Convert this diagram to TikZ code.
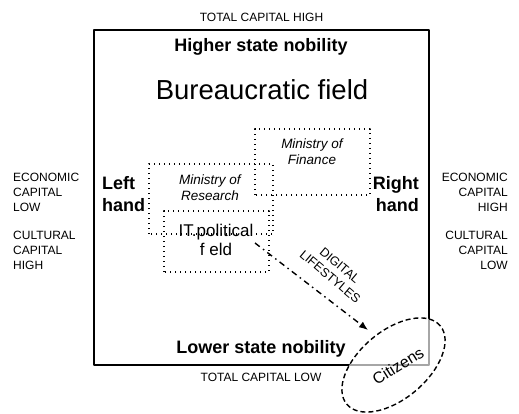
\documentclass[tikz,border=0pt]{standalone}
\usepackage{fontspec}
\setmainfont{Liberation Sans}
\usetikzlibrary{arrows.meta}
\tikzset{
  sidelabel/.style={font=\fontsize{12}{15}\selectfont, align=left, inner sep=0pt},
  nobility/.style={font=\fontsize{18}{20}\selectfont\bfseries, inner sep=0pt},
  handlabel/.style={font=\fontsize{18}{22}\selectfont\bfseries, inner sep=0pt},
  ministry/.style={font=\fontsize{13.5}{16}\selectfont\itshape, align=center, inner sep=0pt},
  dotbox/.style={line width=1.4pt, dash pattern=on 1.4pt off 3.6pt},
}
\begin{document}
\begin{tikzpicture}[x=1pt, y=1pt, line join=round]
  \useasboundingbox (0,0) rectangle (519,413);
  % Rahmen des Feldes
  \draw[line width=1.8pt] (94,48) rectangle (429,383);
  % Achsen oben und unten
  \node[sidelabel] (tophigh) at (261.5,396) {TOTAL CAPITAL HIGH};
  \node[sidelabel] (toplow) at (261,36) {TOTAL CAPITAL LOW};
  \node[nobility] (higher) at (261,366) {Higher state nobility};
  \node[nobility] (lower) at (261,64) {Lower state nobility};
  \node[font=\fontsize{27.5}{30}\selectfont, inner sep=0pt] (bureau) at (262,323) {Bureaucratic field};
  % Achsen links und rechts
  \node[sidelabel, anchor=west] (ecolow) at (13,221) {ECONOMIC\\CAPITAL\\LOW};
  \node[sidelabel, anchor=west] (cultlow) at (13,163) {CULTURAL\\CAPITAL\\HIGH};
  \node[sidelabel, anchor=east, align=right] (ecohigh) at (508,221) {ECONOMIC\\CAPITAL\\HIGH};
  \node[sidelabel, anchor=east, align=right] (culthigh) at (508,163) {CULTURAL\\CAPITAL\\LOW};
  \node[handlabel, anchor=west, align=left] (lefthand) at (102,219) {Left\\hand};
  \node[handlabel, anchor=east, align=right] (righthand) at (419,219) {Right\\hand};
  % Ministerien
  \draw[dotbox] (255,218) rectangle (370,284);
  \node[ministry] (finance) at (312,261.5) {Ministry of\\Finance};
  \draw[dotbox] (149,179) rectangle (273,249);
  \node[ministry] (research) at (210,225) {Ministry of\\Research};
  \draw[dotbox] (164,141) rectangle (269,202);
  \node[font=\fontsize{17}{19}\selectfont, align=center, inner sep=0pt] (itfield) at (216,173.5) {IT.political\\f eld};
  % Buerger
  \draw[line width=1.4pt, dash pattern=on 5pt off 3pt, fill=white, fill opacity=0.65,
    rotate around={40:(393.5,48)}] (393.5,48) ellipse (61 and 34);
  \node[font=\fontsize{16}{19}\selectfont, rotate=32, inner sep=0pt] (citizens) at (398,47) {Citizens};
  % Pfeil
  \coordinate (lsstart) at (255,170);
  \coordinate (lstip) at (368,83);
  \draw[line width=1.4pt, dash pattern=on 6pt off 4pt on 1.5pt off 4pt, -{Latex[length=9pt, width=7pt]}] (lsstart) -- (lstip);
  \node[sidelabel, font=\fontsize{12.5}{15}\selectfont, align=center, rotate=-40] (lifestyles) at (335,142) {DIGITAL\\LIFESTYLES};
\end{tikzpicture}
\end{document}
